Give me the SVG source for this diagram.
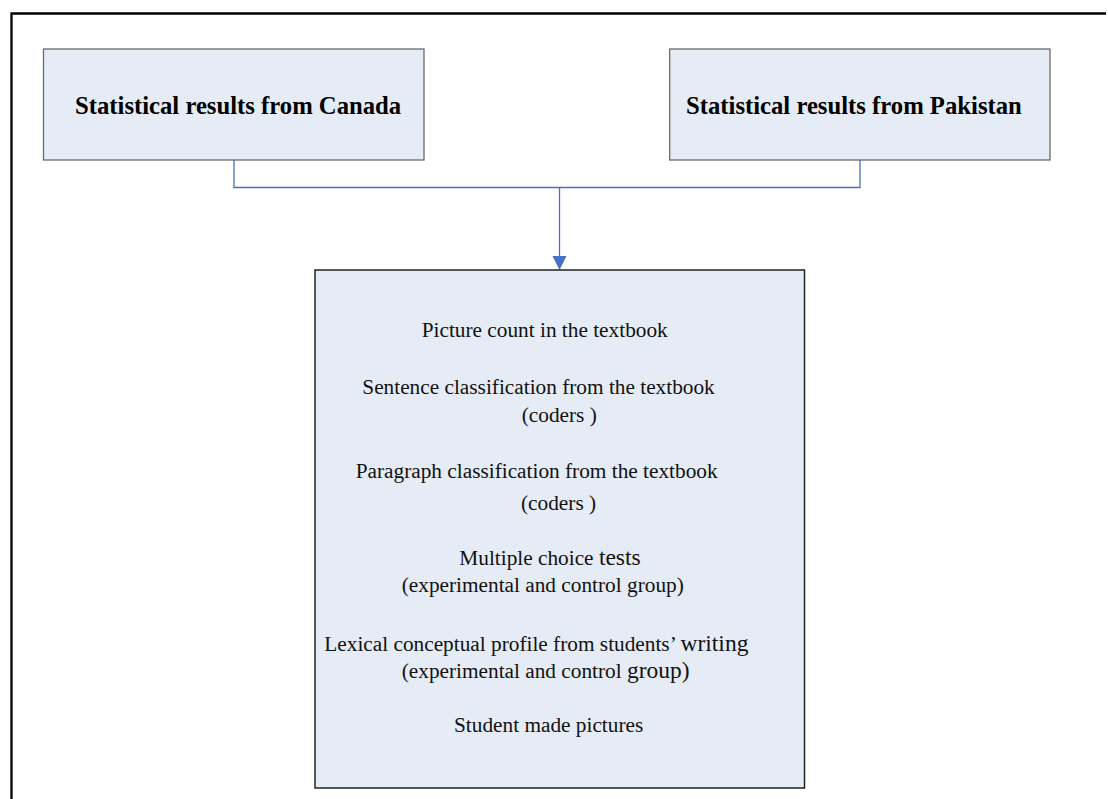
<svg xmlns="http://www.w3.org/2000/svg" width="1108" height="799" viewBox="0 0 1108 799">
  <style>
    .box { fill: #e6ecf6; stroke: #6b6b6b; stroke-width: 1.3; }
    .main { fill: #e6ecf6; stroke: #222; stroke-width: 1.5; }
    .title { font-family: "Liberation Serif", "Times New Roman", serif; font-weight: bold; font-size: 24.7px; fill: #000; }
    .item { font-family: "Liberation Serif", "Times New Roman", serif; font-size: 21.3px; fill: #111; }
    .big { font-size: 23.5px; }
    .link { fill: none; stroke: #4472c4; stroke-width: 1.3; }
  </style>
  <defs>
    <marker id="arrow" markerWidth="14" markerHeight="14" refX="7" refY="14" orient="auto-start-reverse" markerUnits="userSpaceOnUse" viewBox="0 0 14 14">
      <path d="M0,0 L14,0 L7,14 Z" fill="#4472c4"/>
    </marker>
  </defs>

  <rect width="1108" height="799" fill="#fff"/>

  <!-- page frame (top and left edges only) -->
  <path d="M11.5,799 V13.5 H1106" fill="none" stroke="#000" stroke-width="2.3"/>

  <!-- connectors -->
  <g id="connectors">
    <path class="link" d="M234,160 V187.5 H860 V160"/>
    <line x1="559.5" y1="187.5" x2="559.5" y2="256" class="link"/>
    <path d="M552.5,256 L566.5,256 L559.5,270 Z" fill="#4472c4"/>
  </g>

  <g id="canada">
    <rect class="box" x="43.5" y="49" width="380.5" height="111"/>
    <text class="title" x="75" y="114.3">Statistical results from Canada</text>
  </g>

  <g id="pakistan">
    <rect class="box" x="669.7" y="49" width="380.3" height="111"/>
    <text class="title" x="686" y="114.3">Statistical results from Pakistan</text>
  </g>

  <g id="measures">
    <rect class="main" x="315" y="270" width="489.5" height="518"/>
    <text class="item" x="421.7" y="336.7">Picture count in the textbook</text>
    <text class="item" x="362.3" y="394.3">Sentence classification from the textbook</text>
    <text class="item" x="521.7" y="421.7">(coders )</text>
    <text class="item" x="355.7" y="477.7">Paragraph classification from the textbook</text>
    <text class="item" x="521" y="510">(coders )</text>
    <text class="item" x="459.3" y="565">Multiple choice <tspan class="big">tests</tspan></text>
    <text class="item" x="401.7" y="591.7">(experimental and control group)</text>
    <text class="item" x="324.3" y="651">Lexical conceptual profile from students’ <tspan class="big">writing</tspan></text>
    <text class="item" x="401.7" y="678.3">(experimental and control <tspan class="big">group)</tspan></text>
    <text class="item" x="454" y="731.7">Student made pictures</text>
  </g>
</svg>
